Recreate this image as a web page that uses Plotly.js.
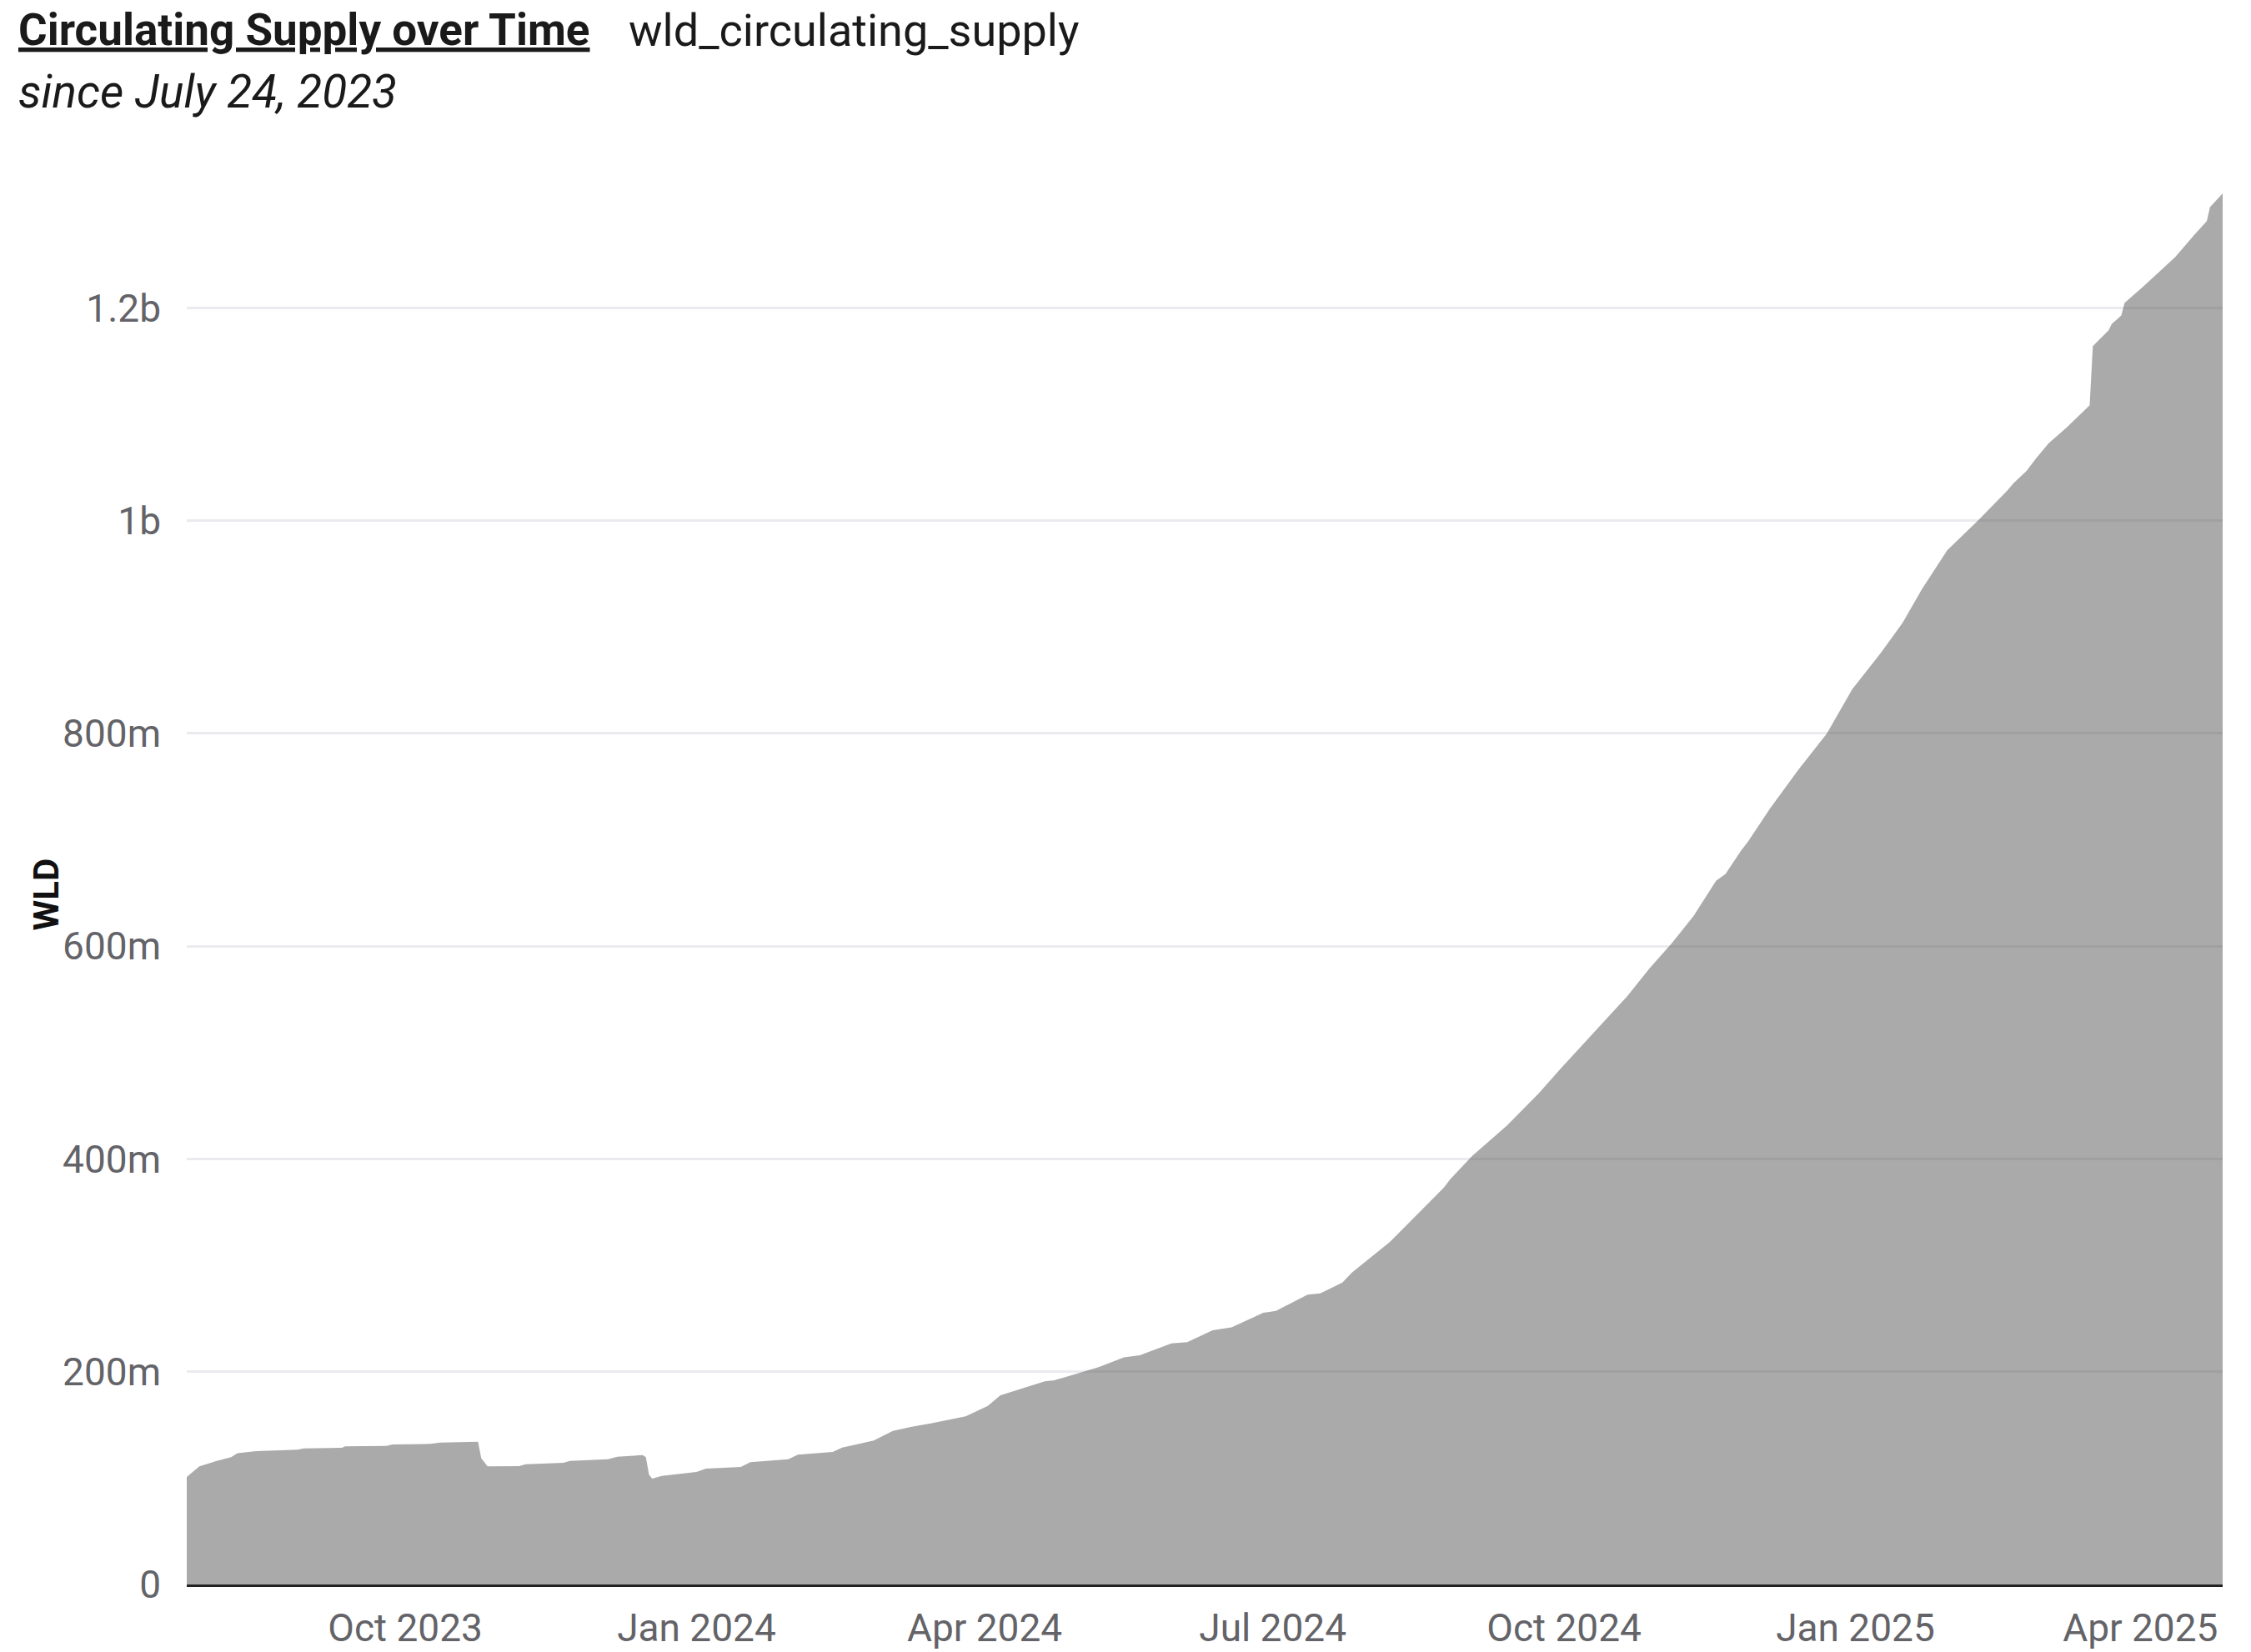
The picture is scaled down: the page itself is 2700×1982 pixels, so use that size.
<!DOCTYPE html>
<html>
<head>
<meta charset="utf-8">
<script src="https://cdn.plot.ly/plotly-3.0.1.min.js"></script>
<style>
  html, body { margin: 0; padding: 0; background: #fff; }
  #chart { width: 2700px; height: 1982px; }
</style>
</head>
<body>
<div id="chart"></div>
<script>
// circulating supply of WLD (millions)
var dates = [
    "2023-07-24", "2023-07-28", "2023-08-02", "2023-08-07", "2023-08-09", "2023-08-15",
    "2023-08-28", "2023-08-30", "2023-09-11", "2023-09-12", "2023-09-25", "2023-09-27",
    "2023-10-09", "2023-10-12", "2023-10-24", "2023-10-25", "2023-10-27", "2023-11-06",
    "2023-11-08", "2023-11-20", "2023-11-22", "2023-12-04", "2023-12-07", "2023-12-15",
    "2023-12-16", "2023-12-17", "2023-12-18", "2023-12-21", "2024-01-01", "2024-01-04",
    "2024-01-15", "2024-01-18", "2024-01-30", "2024-02-02", "2024-02-13", "2024-02-16",
    "2024-02-26", "2024-03-03", "2024-03-09", "2024-03-15", "2024-03-26", "2024-04-02",
    "2024-04-06", "2024-04-13", "2024-04-20", "2024-04-23", "2024-05-05", "2024-05-07",
    "2024-05-15", "2024-05-20", "2024-05-30", "2024-06-04", "2024-06-12", "2024-06-18",
    "2024-06-28", "2024-07-02", "2024-07-12", "2024-07-16", "2024-07-23", "2024-07-26",
    "2024-08-07", "2024-08-17", "2024-08-24", "2024-08-26", "2024-08-29", "2024-09-02",
    "2024-09-13", "2024-09-23", "2024-09-30", "2024-10-11", "2024-10-21", "2024-10-28",
    "2024-11-04", "2024-11-11", "2024-11-18", "2024-11-21", "2024-11-23", "2024-11-26",
    "2024-11-28", "2024-12-05", "2024-12-14", "2024-12-23", "2024-12-31", "2025-01-09",
    "2025-01-16", "2025-01-22", "2025-01-30", "2025-02-09", "2025-02-18", "2025-02-20",
    "2025-02-24", "2025-02-27", "2025-03-03", "2025-03-09", "2025-03-16", "2025-03-17",
    "2025-03-22", "2025-03-23", "2025-03-26", "2025-03-27", "2025-04-02", "2025-04-12",
    "2025-04-18", "2025-04-22", "2025-04-23", "2025-04-27"
];

var supply_m = [
    101, 111, 115.7, 119.6, 123.5, 125.3,
    126.7, 128, 128.5, 129.8, 130.3, 131.6,
    132.2, 133.4, 134.2, 118.8, 111, 111.2,
    113, 114.4, 116.2, 117.7, 120.1, 121.7,
    119.6, 103.2, 99.5, 102, 105.8, 108.9,
    110.5, 114.9, 117.7, 122, 124.6, 128.7,
    135.3, 144.4, 148.3, 151.4, 158, 167.9,
    177.8, 184.3, 190.9, 191.9, 203.1, 204.4,
    213.6, 215.4, 226.6, 227.9, 238.9, 241.8,
    255.4, 257.2, 272.4, 273.6, 283.8, 293.2,
    322, 352, 372.9, 380.7, 389.9, 402.9,
    431.6, 461.7, 485.2, 520.4, 553.1, 579.2,
    602.7, 628.8, 661.4, 668, 677.1, 690.2,
    698, 729.3, 765.9, 799.9, 841.6, 875.6,
    904.3, 935.6, 972.2, 1000.9, 1028.4, 1035.4,
    1046.6, 1058.4, 1072.7, 1088.4, 1108.5, 1164.1,
    1179, 1185, 1192.9, 1204.6, 1220.3, 1247.7,
    1268.6, 1281.6, 1294.7, 1307.7
];

var y_ticks = [0, 200e6, 400e6, 600e6, 800e6, 1000e6, 1200e6];
var y_tick_labels = ["0", "200m", "400m", "600m", "800m", "1b", "1.2b"];

function plot_supply() {
    'use strict';

    var font = "Roboto, 'DejaVu Sans', sans-serif";
    var supply = supply_m.map(function (v) { return v * 1e6; });

    var trace = {
        type: "scatter",
        mode: "lines",
        x:    dates,
        y:    supply,
        fill: "tozeroy",
        fillcolor: "rgba(85,85,85,0.5)",
        line: {width: 0, color: "rgba(85,85,85,0.5)"},
        hoverinfo: "skip"
    };

    var layout = {
        width: 2700,
        height: 1982,
        margin: {l: 224, r: 34, t: 232, b: 81, pad: 0},
        paper_bgcolor: "#ffffff",
        plot_bgcolor: "#ffffff",
        showlegend: false,
        font: {family: font, size: 46, color: "#636368"},
        xaxis: {
            type: "date",
            range: [dates[0], dates[dates.length - 1]],
            dtick: "M3",
            tick0: "2023-10-01",
            tickformat: "%b %Y",
            showgrid: false,
            zeroline: false,
            showline: true,
            linecolor: "#222222",
            linewidth: 3,
            layer: "above traces",
            ticks: "",
            ticklabelstandoff: 10,
            tickfont: {family: font, size: 46, color: "#636368"}
        },
        yaxis: {
            range: [0, Math.max.apply(null, supply)],
            tickvals: y_ticks,
            ticktext: y_tick_labels,
            showgrid: true,
            gridcolor: "#ebebef",
            gridwidth: 3,
            zeroline: false,
            showline: false,
            ticks: "",
            ticklabelstandoff: 30,
            tickfont: {family: font, size: 46, color: "#636368"}
        },
        annotations: [
            {
                text: "<b><u>Circulating Supply over Time</u></b>",
                xref: "paper", yref: "paper",
                x: (20 - 224) / 2442, y: (1901 - 36) / 1669,
                xanchor: "left", yanchor: "middle",
                showarrow: false,
                font: {family: font, size: 53, color: "#1a1a1a"}
            },
            {
                text: "wld_circulating_supply",
                xref: "paper", yref: "paper",
                x: (752 - 224) / 2442, y: (1901 - 36) / 1669,
                xanchor: "left", yanchor: "middle",
                showarrow: false,
                font: {family: font, size: 54, color: "#1a1a1a"}
            },
            {
                text: "<i>since July 24, 2023</i>",
                xref: "paper", yref: "paper",
                x: (20 - 224) / 2442, y: (1901 - 110) / 1669,
                xanchor: "left", yanchor: "middle",
                showarrow: false,
                font: {family: font, size: 55, color: "#1a1a1a"}
            },
            {
                text: "<b>WLD</b>",
                xref: "paper", yref: "paper",
                x: (55 - 224) / 2442, y: 0.5 - 7 / 1669,
                xanchor: "center", yanchor: "middle",
                textangle: -90,
                showarrow: false,
                font: {family: font, size: 42, color: "#111111"}
            }
        ]
    };

    Plotly.newPlot("chart", [trace], layout, {staticPlot: true, displayModeBar: false});
}

plot_supply();
</script>
</body>
</html>
